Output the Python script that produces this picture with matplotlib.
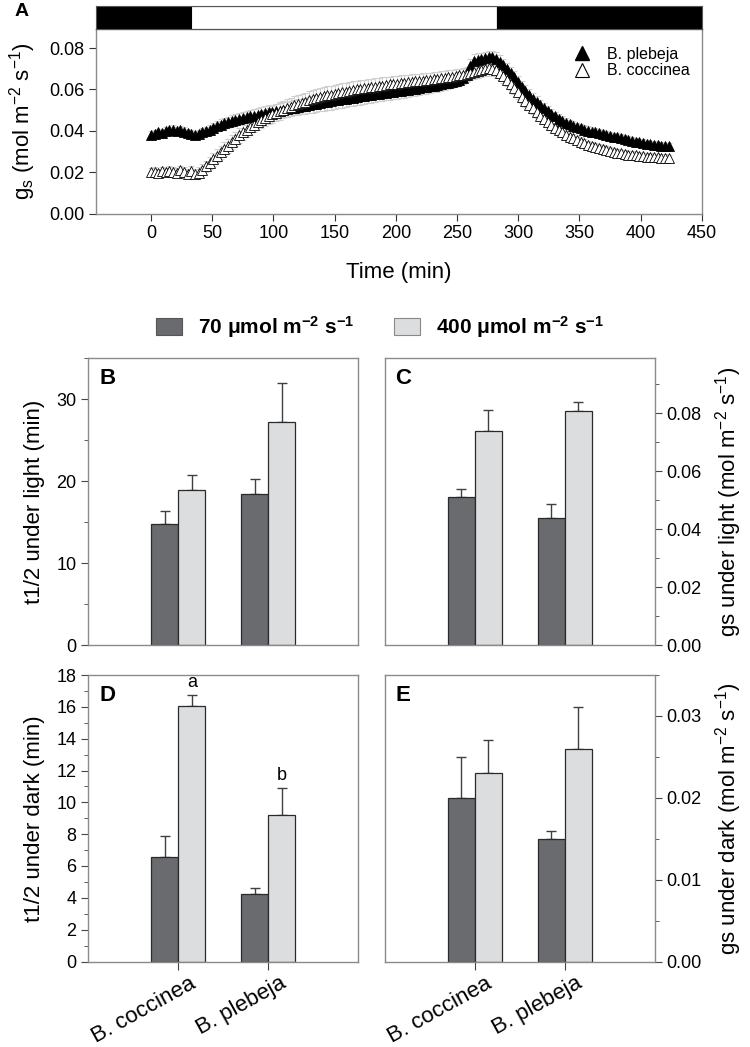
import numpy as np
import matplotlib
matplotlib.use("Agg")
import matplotlib.pyplot as plt
from matplotlib.patches import Patch
from matplotlib.lines import Line2D
from matplotlib.ticker import MultipleLocator, FormatStrFormatter
from matplotlib.transforms import ScaledTranslation

plt.rcParams['font.family'] = ['Liberation Sans', 'DejaVu Sans']
plt.rcParams['mathtext.fontset'] = 'custom'
plt.rcParams['mathtext.rm'] = 'Liberation Sans'
plt.rcParams['mathtext.it'] = 'Liberation Sans:italic'
plt.rcParams['mathtext.bf'] = 'Liberation Sans:bold'

# ---------------- Panel A data (time course, 3-min sampling) ----------------
time_min = np.arange(0, 424, 3)

gs_plebeja = [
    0.0380, 0.0385, 0.0392, 0.0388, 0.0398, 0.0402, 0.0405, 0.0398, 0.0403, 0.0396,
    0.0390, 0.0383, 0.0380, 0.0386, 0.0392, 0.0398, 0.0405, 0.0412, 0.0422, 0.0430,
    0.0436, 0.0442, 0.0448, 0.0452, 0.0458, 0.0463, 0.0468, 0.0470, 0.0474, 0.0478,
    0.0482, 0.0486, 0.0489, 0.0492, 0.0495, 0.0498, 0.0502, 0.0505, 0.0508, 0.0512,
    0.0515, 0.0518, 0.0522, 0.0525, 0.0528, 0.0532, 0.0535, 0.0538, 0.0541, 0.0544,
    0.0547, 0.0550, 0.0553, 0.0556, 0.0558, 0.0561, 0.0564, 0.0566, 0.0569, 0.0571,
    0.0574, 0.0576, 0.0579, 0.0581, 0.0584, 0.0586, 0.0589, 0.0591, 0.0594, 0.0596,
    0.0599, 0.0601, 0.0604, 0.0607, 0.0610, 0.0613, 0.0616, 0.0619, 0.0622, 0.0625,
    0.0629, 0.0633, 0.0637, 0.0642, 0.0648, 0.0655, 0.0668, 0.0712, 0.0738, 0.0742,
    0.0745, 0.0750, 0.0756, 0.0755, 0.0748, 0.0735, 0.0718, 0.0700, 0.0680, 0.0658,
    0.0636, 0.0614, 0.0594, 0.0574, 0.0556, 0.0540, 0.0524, 0.0508, 0.0495, 0.0482,
    0.0470, 0.0459, 0.0449, 0.0440, 0.0432, 0.0425, 0.0418, 0.0412, 0.0406, 0.0401,
    0.0396, 0.0392, 0.0388, 0.0384, 0.0380, 0.0376, 0.0372, 0.0368, 0.0364, 0.0360,
    0.0356, 0.0352, 0.0348, 0.0344, 0.0340, 0.0337, 0.0334, 0.0332, 0.0330, 0.0328,
    0.0326, 0.0325]

gs_coccinea = [
    0.0200, 0.0203, 0.0198, 0.0205, 0.0200, 0.0207, 0.0202, 0.0196, 0.0208, 0.0200,
    0.0193, 0.0205, 0.0190, 0.0198, 0.0212, 0.0228, 0.0245, 0.0262, 0.0280, 0.0296,
    0.0312, 0.0328, 0.0344, 0.0360, 0.0378, 0.0393, 0.0405, 0.0418, 0.0430, 0.0442,
    0.0452, 0.0462, 0.0471, 0.0480, 0.0488, 0.0496, 0.0503, 0.0510, 0.0517, 0.0523,
    0.0529, 0.0535, 0.0541, 0.0547, 0.0552, 0.0557, 0.0562, 0.0567, 0.0571, 0.0575,
    0.0579, 0.0583, 0.0587, 0.0590, 0.0594, 0.0597, 0.0600, 0.0603, 0.0606, 0.0609,
    0.0612, 0.0614, 0.0617, 0.0619, 0.0622, 0.0624, 0.0626, 0.0628, 0.0631, 0.0633,
    0.0635, 0.0637, 0.0639, 0.0641, 0.0643, 0.0645, 0.0647, 0.0649, 0.0651, 0.0654,
    0.0656, 0.0659, 0.0662, 0.0665, 0.0668, 0.0671, 0.0675, 0.0679, 0.0684, 0.0690,
    0.0695, 0.0700, 0.0702, 0.0700, 0.0692, 0.0680, 0.0665, 0.0648, 0.0628, 0.0607,
    0.0586, 0.0565, 0.0545, 0.0526, 0.0508, 0.0490, 0.0473, 0.0457, 0.0442, 0.0428,
    0.0415, 0.0403, 0.0392, 0.0382, 0.0372, 0.0363, 0.0355, 0.0347, 0.0340, 0.0333,
    0.0327, 0.0321, 0.0316, 0.0311, 0.0306, 0.0302, 0.0298, 0.0294, 0.0291, 0.0288,
    0.0285, 0.0283, 0.0281, 0.0279, 0.0277, 0.0275, 0.0274, 0.0272, 0.0271, 0.0270,
    0.0269, 0.0268]

se_plebeja = [
    0.0018, 0.0020, 0.0019, 0.0021, 0.0020, 0.0018, 0.0022, 0.0020, 0.0019, 0.0021,
    0.0020, 0.0019, 0.0021, 0.0020, 0.0022, 0.0021, 0.0023, 0.0024, 0.0025, 0.0026,
    0.0026, 0.0027, 0.0028, 0.0028, 0.0029, 0.0030, 0.0030, 0.0031, 0.0032, 0.0032,
    0.0033, 0.0033, 0.0034, 0.0034, 0.0035, 0.0035, 0.0036, 0.0036, 0.0037, 0.0037,
    0.0038, 0.0038, 0.0039, 0.0039, 0.0040, 0.0040, 0.0040, 0.0041, 0.0041, 0.0041,
    0.0041, 0.0041, 0.0041, 0.0040, 0.0040, 0.0040, 0.0039, 0.0039, 0.0039, 0.0038,
    0.0038, 0.0038, 0.0037, 0.0037, 0.0037, 0.0036, 0.0036, 0.0036, 0.0035, 0.0035,
    0.0035, 0.0034, 0.0034, 0.0034, 0.0033, 0.0033, 0.0033, 0.0032, 0.0032, 0.0032,
    0.0032, 0.0031, 0.0031, 0.0031, 0.0031, 0.0031, 0.0032, 0.0035, 0.0034, 0.0033,
    0.0033, 0.0032, 0.0032, 0.0031, 0.0031, 0.0030, 0.0030, 0.0030, 0.0029, 0.0029,
    0.0028, 0.0028, 0.0027, 0.0027, 0.0026, 0.0026, 0.0025, 0.0025, 0.0024, 0.0024,
    0.0023, 0.0023, 0.0023, 0.0022, 0.0022, 0.0022, 0.0021, 0.0021, 0.0021, 0.0021,
    0.0020, 0.0020, 0.0020, 0.0020, 0.0020, 0.0019, 0.0019, 0.0019, 0.0019, 0.0019,
    0.0019, 0.0018, 0.0018, 0.0018, 0.0018, 0.0018, 0.0018, 0.0018, 0.0017, 0.0017,
    0.0017, 0.0017]

se_coccinea = [
    0.0020, 0.0021, 0.0019, 0.0022, 0.0020, 0.0021, 0.0023, 0.0022, 0.0024, 0.0023,
    0.0022, 0.0024, 0.0025, 0.0026, 0.0027, 0.0028, 0.0029, 0.0030, 0.0031, 0.0032,
    0.0033, 0.0033, 0.0034, 0.0035, 0.0036, 0.0036, 0.0037, 0.0038, 0.0038, 0.0039,
    0.0039, 0.0040, 0.0040, 0.0041, 0.0041, 0.0042, 0.0042, 0.0042, 0.0043, 0.0043,
    0.0043, 0.0043, 0.0044, 0.0044, 0.0044, 0.0044, 0.0044, 0.0044, 0.0044, 0.0043,
    0.0043, 0.0043, 0.0043, 0.0042, 0.0042, 0.0042, 0.0041, 0.0041, 0.0041, 0.0040,
    0.0040, 0.0040, 0.0039, 0.0039, 0.0039, 0.0038, 0.0038, 0.0038, 0.0037, 0.0037,
    0.0037, 0.0036, 0.0036, 0.0036, 0.0035, 0.0035, 0.0035, 0.0034, 0.0034, 0.0034,
    0.0034, 0.0034, 0.0033, 0.0033, 0.0033, 0.0033, 0.0034, 0.0034, 0.0035, 0.0036,
    0.0037, 0.0037, 0.0038, 0.0037, 0.0036, 0.0035, 0.0034, 0.0033, 0.0032, 0.0031,
    0.0030, 0.0029, 0.0028, 0.0027, 0.0027, 0.0026, 0.0025, 0.0025, 0.0024, 0.0024,
    0.0023, 0.0023, 0.0022, 0.0022, 0.0022, 0.0021, 0.0021, 0.0021, 0.0020, 0.0020,
    0.0020, 0.0020, 0.0019, 0.0019, 0.0019, 0.0019, 0.0019, 0.0018, 0.0018, 0.0018,
    0.0018, 0.0018, 0.0018, 0.0018, 0.0018, 0.0017, 0.0017, 0.0017, 0.0017, 0.0017,
    0.0017, 0.0017]

# light regime band (dark / light / dark)
band_edges = [-45, 33, 283, 450]
band_colors = ['black', 'white', 'black']

# ---------------- Panels B-E data ----------------
species = ['B. coccinea', 'B. plebeja']
light_labels = [r'70 μmol m$^{\mathbf{-2}}$ s$^{\mathbf{-1}}$',
                r'400 μmol m$^{\mathbf{-2}}$ s$^{\mathbf{-1}}$']

B_low, B_low_err = [14.8, 18.4], [1.5, 1.9]
B_high, B_high_err = [18.9, 27.2], [1.8, 4.8]
C_low, C_low_err = [0.0510, 0.0439], [0.0029, 0.0049]
C_high, C_high_err = [0.0740, 0.0809], [0.0071, 0.0030]
D_low, D_low_err = [6.55, 4.24], [1.35, 0.38]
D_high, D_high_err = [16.08, 9.19], [0.65, 1.70]
E_low, E_low_err = [0.0200, 0.0150], [0.0050, 0.0010]
E_high, E_high_err = [0.0230, 0.0260], [0.0041, 0.0051]
D_high_letters = ['a', 'b']

DARK = '#6a6b6f'
LIGHT = '#dcdddf'
SPINE = '#8a8a8a'
TICKFS = 13
LABFS = 16

fig = plt.figure(figsize=(7.5, 10.47), dpi=100)
W, H = 750.0, 1047.0

def frac(x0, y0, x1, y1):
    return [x0 / W, 1 - y1 / H, (x1 - x0) / W, (y1 - y0) / H]

# ---------------- Panel A ----------------
axA = fig.add_axes(frac(96.0, 29.3, 701.7, 213.5))
axBand = fig.add_axes(frac(96.0, 5.5, 701.7, 29.3))
for i, c in enumerate(band_colors):
    axBand.axvspan(band_edges[i], band_edges[i + 1], color=c, ec='black', lw=0.8)
axBand.set_xlim(band_edges[0], band_edges[-1])
axBand.set_ylim(0, 1)
axBand.set_xticks([]); axBand.set_yticks([])
for s in axBand.spines.values():
    s.set_color('#555555'); s.set_linewidth(0.8)

axA.errorbar(time_min, gs_plebeja, yerr=se_plebeja, fmt='none', ecolor='#cfcfcf',
             elinewidth=0.8, capsize=2, capthick=0.8, zorder=1)
axA.errorbar(time_min, gs_coccinea, yerr=se_coccinea, fmt='none', ecolor='#cfcfcf',
             elinewidth=0.8, capsize=2, capthick=0.8, zorder=1)
axA.plot(time_min, gs_plebeja, ls='none', marker='^', ms=7, mfc='black', mec='black',
         mew=0.6, zorder=3)
axA.plot(time_min, gs_coccinea, ls='none', marker='^', ms=7, mfc='white', mec='black',
         mew=0.6, zorder=4)
axA.set_xlim(-45, 450)
axA.set_ylim(0, 0.0891)
axA.set_xticks(np.arange(0, 451, 50))
axA.set_yticks(np.arange(0, 0.081, 0.02))
axA.yaxis.set_major_formatter(FormatStrFormatter('%.2f'))
axA.tick_params(labelsize=TICKFS, direction='out', length=5, color='#333333')
for s in axA.spines.values():
    s.set_color(SPINE); s.set_linewidth(1)
axA.set_xlabel('Time (min)', fontsize=LABFS, labelpad=14)
axA.set_ylabel(r'g$_\mathrm{s}$ (mol m$^{-2}$ s$^{-1}$)', fontsize=LABFS, labelpad=8)
handlesA = [Line2D([], [], ls='none', marker='^', ms=9.5, mfc='black', mec='black'),
            Line2D([], [], ls='none', marker='^', ms=9.5, mfc='white', mec='black', mew=0.8)]
axA.legend(handlesA, ['B. plebeja', 'B. coccinea'], loc='upper left',
           bbox_to_anchor=(0.789, 0.905), frameon=False, fontsize=11.5,
           handlelength=1.0, handletextpad=1.1, labelspacing=0.1, borderpad=0,
           borderaxespad=0)
fig.text(15 / W, 1 - 12 / H, 'A', fontsize=14, fontweight='bold', va='center', ha='left')

# ---------------- Bar panels ----------------
x = np.arange(1, len(species) + 1)
bw = 0.3

def bar_panel(ax, low, lowerr, high, higherr, letter, right=False, xlabels=False):
    ax.bar(x - bw / 2, low, bw, color=DARK, edgecolor='#2a2a2a', linewidth=0.9, zorder=2)
    ax.bar(x + bw / 2, high, bw, color=LIGHT, edgecolor='#2a2a2a', linewidth=0.9, zorder=2)
    ax.errorbar(x - bw / 2, low, yerr=[np.zeros(len(low)), lowerr], fmt='none',
                ecolor='#404040', elinewidth=1, capsize=3.5, capthick=1, zorder=1)
    ax.errorbar(x + bw / 2, high, yerr=[np.zeros(len(high)), higherr], fmt='none',
                ecolor='#404040', elinewidth=1, capsize=3.5, capthick=1, zorder=1)
    ax.set_xlim(0, 3)
    for s in ax.spines.values():
        s.set_color(SPINE); s.set_linewidth(1)
    ax.tick_params(axis='y', which='both', direction='out', color='#444444', labelsize=TICKFS)
    ax.tick_params(axis='y', which='major', length=5)
    ax.tick_params(axis='y', which='minor', length=3)
    if right:
        ax.yaxis.tick_right()
        ax.yaxis.set_label_position('right')
    if xlabels:
        ax.set_xticks(x)
        ax.set_xticklabels(species, rotation=29, ha='right', va='top',
                           rotation_mode='anchor', fontsize=16)
        ax.tick_params(axis='x', direction='out', length=6, color='#444444', pad=2)
        shift = ScaledTranslation(8 / 72, 0, fig.dpi_scale_trans)
        for lab in ax.get_xticklabels():
            lab.set_transform(lab.get_transform() + shift)
    else:
        ax.set_xticks([])
    ax.text(0.04, 0.965, letter, transform=ax.transAxes, fontsize=16, fontweight='bold',
            va='top', ha='left')

axB = fig.add_axes(frac(88.3, 358.3, 358.3, 645.0))
bar_panel(axB, B_low, B_low_err, B_high, B_high_err, 'B')
axB.set_ylim(0, 35)
axB.yaxis.set_major_locator(MultipleLocator(10))
axB.yaxis.set_minor_locator(MultipleLocator(5))
axB.set_ylabel('t1/2 under light (min)', fontsize=LABFS, labelpad=8)

axC = fig.add_axes(frac(384.5, 358.3, 654.5, 645.0))
bar_panel(axC, C_low, C_low_err, C_high, C_high_err, 'C', right=True)
axC.set_ylim(0, 0.099)
axC.yaxis.set_major_locator(MultipleLocator(0.02))
axC.yaxis.set_minor_locator(MultipleLocator(0.01))
axC.yaxis.set_major_formatter(FormatStrFormatter('%.2f'))
axC.set_ylabel(r'gs under light (mol m$^{-2}$ s$^{-1}$)', fontsize=LABFS,
               rotation=90, labelpad=8)

axD = fig.add_axes(frac(88.3, 675.0, 358.3, 961.5))
bar_panel(axD, D_low, D_low_err, D_high, D_high_err, 'D', xlabels=True)
axD.set_ylim(0, 18)
axD.yaxis.set_major_locator(MultipleLocator(2))
axD.yaxis.set_minor_locator(MultipleLocator(1))
axD.set_ylabel('t1/2 under dark (min)', fontsize=LABFS, labelpad=8)
for xi, top, err, lab in zip(x + bw / 2, D_high, D_high_err, D_high_letters):
    axD.annotate(lab, (xi, top + err), xytext=(0, 3), textcoords='offset points',
                 ha='center', va='bottom', fontsize=13)

axE = fig.add_axes(frac(384.5, 675.0, 654.5, 961.5))
bar_panel(axE, E_low, E_low_err, E_high, E_high_err, 'E', right=True, xlabels=True)
axE.set_ylim(0, 0.035)
axE.yaxis.set_major_locator(MultipleLocator(0.01))
axE.yaxis.set_minor_locator(MultipleLocator(0.005))
axE.yaxis.set_major_formatter(FormatStrFormatter('%.2f'))
axE.set_ylabel(r'gs under dark (mol m$^{-2}$ s$^{-1}$)', fontsize=LABFS,
               rotation=90, labelpad=8)

# top legend for the bar panels
handles = [Patch(facecolor=DARK, edgecolor='#555555', lw=0.8),
           Patch(facecolor=LIGHT, edgecolor='#888888', lw=0.8)]
fig.legend(handles, light_labels, loc='center', bbox_to_anchor=(0.507, 1 - 327 / H),
           ncol=2, frameon=False, prop={'weight': 'bold', 'size': 15},
           handlelength=1.25, handleheight=0.85, handletextpad=0.77, columnspacing=1.9)

fig.savefig('out.png', dpi=100)
